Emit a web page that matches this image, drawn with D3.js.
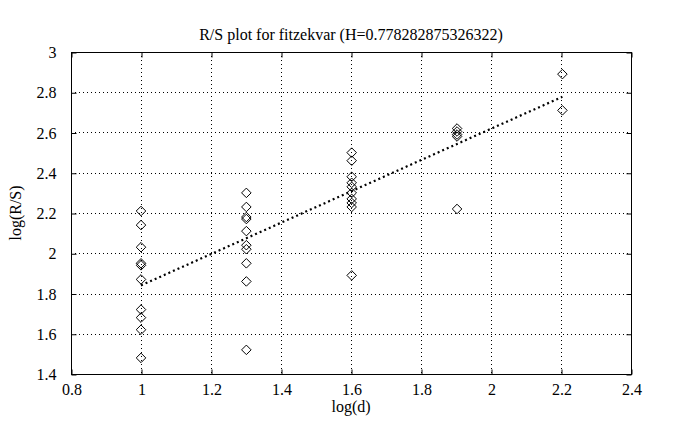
<!DOCTYPE html>
<html><head><meta charset="utf-8">
<script src="https://cdn.jsdelivr.net/npm/d3@7"></script>
<style>body{margin:0;background:#fff}svg{display:block}</style>
</head><body><svg id="c" width="686" height="430"></svg>
<script>
const title = "R/S plot for fitzekvar (H=0.778282875326322)";
const xLabel = "log(d)";
const yLabel = "log(R/S)";
const xTicks = [0.8, 1, 1.2, 1.4, 1.6, 1.8, 2, 2.2, 2.4];
const yTicks = [1.4, 1.6, 1.8, 2, 2.2, 2.4, 2.6, 2.8, 3];
const logD = [1, 1.301, 1.602, 1.903, 2.204];
const rsAt1 = [2.21, 2.14, 2.03, 1.95, 1.94, 1.87, 1.72, 1.68, 1.62, 1.48];
const rsAt2 = [2.30, 2.23, 2.18, 2.17, 2.11, 2.04, 2.02, 1.95, 1.86, 1.52];
const rsAt3 = [2.50, 2.46, 2.38, 2.35, 2.33, 2.30, 2.27, 2.25, 2.23, 1.89];
const rsAt4 = [2.62, 2.605, 2.59, 2.58, 2.22];
const rsAt5 = [2.89, 2.71];
const H = 0.778282875326322;
const intercept = 1.062;
const fitX = [1, 2.204];

const FONT = "'Liberation Serif', 'Times New Roman', Times, 'DejaVu Serif', serif";
const svg = d3.select("#c");
const L = 71, R = 631, T = 52, B = 374;
const x = d3.scaleLinear().domain([0.8, 2.4]).range([L, R]);
const y = d3.scaleLinear().domain([1.4, 3]).range([B, T]);

// grid
const g = svg.append("g");
g.selectAll(".gx").data(xTicks.slice(1, -1)).enter().append("line")
  .attr("x1", d => Math.round(x(d)) + 0.5).attr("x2", d => Math.round(x(d)) + 0.5)
  .attr("y1", T).attr("y2", B).attr("stroke", "#000").attr("stroke-width", 1).attr("stroke-dasharray", "1,3");
g.selectAll(".gy").data(yTicks.slice(1, -1)).enter().append("line")
  .attr("y1", d => Math.round(y(d)) + 0.5).attr("y2", d => Math.round(y(d)) + 0.5)
  .attr("x1", L).attr("x2", R).attr("stroke", "#000").attr("stroke-width", 1).attr("stroke-dasharray", "1,3");

// box
svg.append("rect").attr("x", L + 0.5).attr("y", T + 0.5).attr("width", R - L).attr("height", B - T)
  .attr("fill", "none").attr("stroke", "#000").attr("stroke-width", 1);

// axes with inward ticks
const ax = d3.axisBottom(x).tickValues(xTicks).tickSize(-5).tickPadding(9).tickFormat(d3.format("~g"));
const axT = d3.axisTop(x).tickValues(xTicks).tickSize(-5).tickFormat("");
const ay = d3.axisLeft(y).tickValues(yTicks).tickSize(-5).tickPadding(15).tickFormat(d3.format("~g"));
const ayR = d3.axisRight(y).tickValues(yTicks).tickSize(-5).tickFormat("");
function style(sel){
  sel.attr("font-family", null).attr("font-size", null);
  sel.select(".domain").remove();
  sel.selectAll("line").attr("stroke","#000");
  sel.selectAll("text").style("font-family", FONT).style("font-size","16px").attr("fill","#000");
}
svg.append("g").attr("transform", `translate(0.5,${B + 0.5})`).call(ax).call(style);
svg.append("g").attr("transform", `translate(0.5,${T + 0.5})`).call(axT).call(style);
svg.append("g").attr("transform", `translate(${L + 0.5},0.5)`).call(ay).call(style);
svg.append("g").attr("transform", `translate(${R + 0.5},0.5)`).call(ayR).call(style);

// points
const cols = [rsAt1, rsAt2, rsAt3, rsAt4, rsAt5];
const pts = [];
cols.forEach((c, i) => c.forEach(v => pts.push([logD[i], v])));
const diamond = d3.symbol().type(d3.symbolDiamond2).size(58);
svg.append("g").selectAll("path").data(pts).enter().append("path")
  .attr("d", diamond)
  .attr("transform", d => `translate(${x(d[0])},${y(d[1])})`)
  .attr("fill", "none").attr("stroke", "#000").attr("stroke-width", 1);

// fit line
const fit = fitX.map(v => [v, intercept + H * v]);
svg.append("path").datum(fit)
  .attr("d", d3.line().x(d => x(d[0])).y(d => y(d[1])))
  .attr("fill", "none").attr("stroke", "#000").attr("stroke-width", 2.2).attr("stroke-dasharray", "2,3");

// texts
function txt(sel){ return sel.style("font-family", FONT).style("font-size", "16px").attr("fill", "#000").attr("text-anchor", "middle"); }
txt(svg.append("text").attr("x", (L + R) / 2).attr("y", 40)).text(title);
txt(svg.append("text").attr("x", (L + R) / 2).attr("y", 412)).text(xLabel);
txt(svg.append("text").attr("transform", `translate(21,${(T + B) / 2}) rotate(-90)`)).text(yLabel);
</script></body></html>
